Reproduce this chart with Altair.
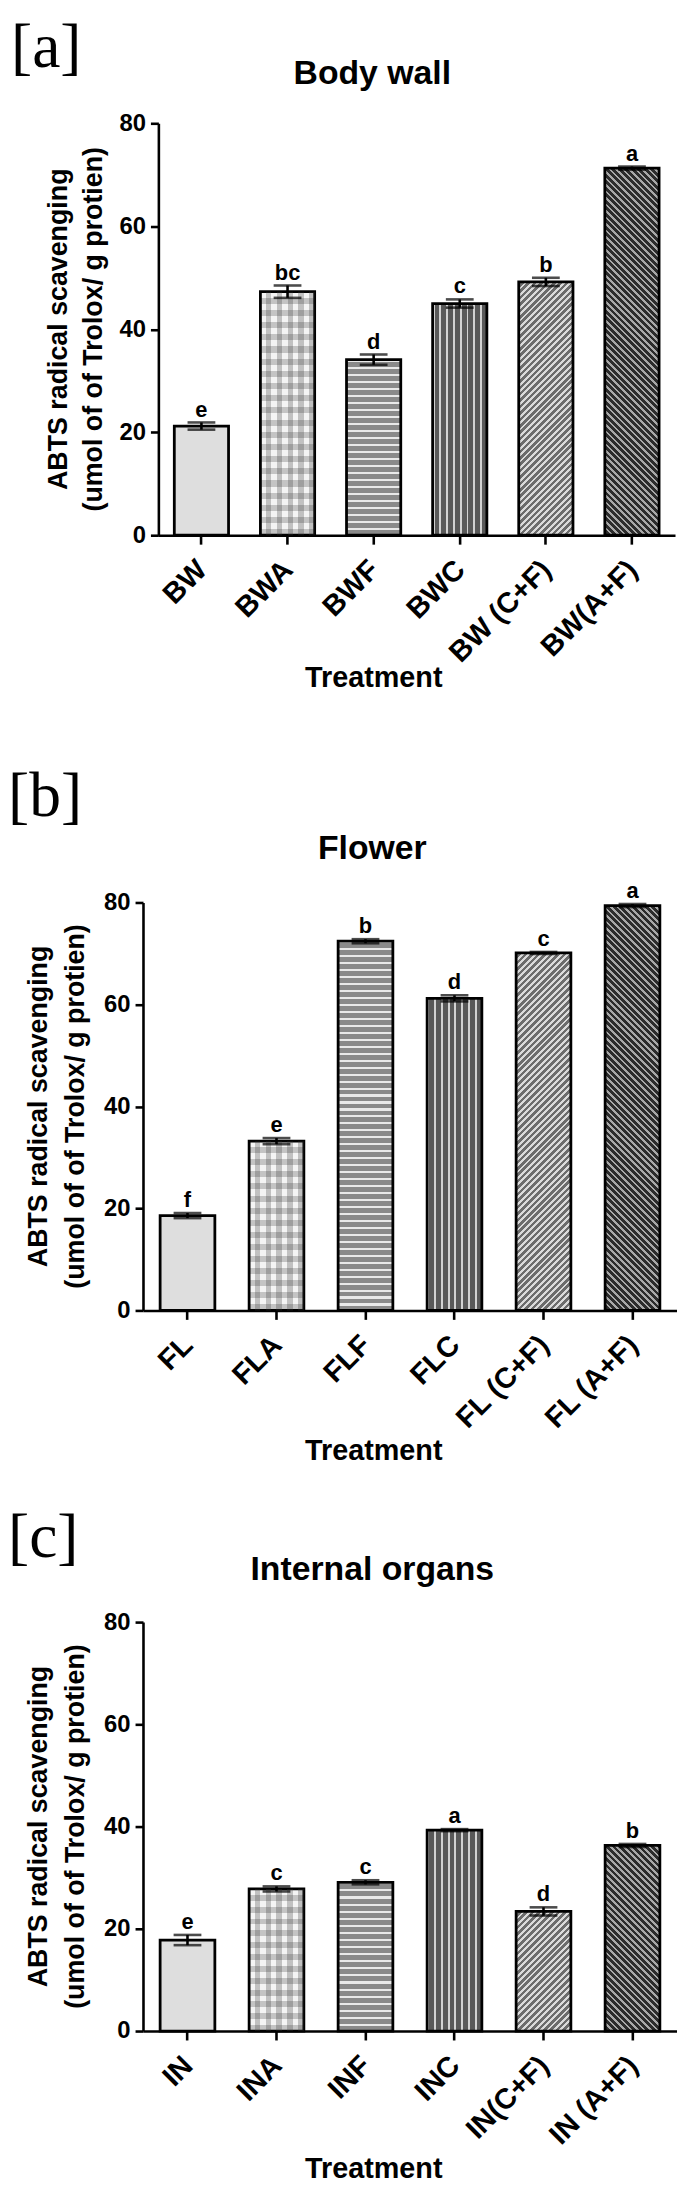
import json
import altair as alt
import pandas as pd

FONT = "Liberation Sans"
SERIF = "Liberation Serif"

# ---------------- data ----------------
panel_tags = ["[a]", "[b]", "[c]"]
panel_titles = ["Body wall", "Flower", "Internal organs"]
y_title_lines = ["ABTS radical scavenging", "(umol of of Trolox/ g protien)"]
x_title = "Treatment"
y_ticks = [0, 20, 40, 60, 80]

a_cats = ["BW", "BWA", "BWF", "BWC", "BW (C+F)", "BW(A+F)"]
a_vals = [21.2, 47.3, 34.1, 45.0, 49.2, 71.3]
a_errs = [0.7, 1.2, 1.0, 0.8, 0.8, 0.3]
a_lets = ["e", "bc", "d", "c", "b", "a"]

b_cats = ["FL", "FLA", "FLF", "FLC", "FL (C+F)", "FL (A+F)"]
b_vals = [18.6, 33.2, 72.4, 61.2, 70.1, 79.4]
b_errs = [0.5, 0.6, 0.4, 0.6, 0.2, 0.3]
b_lets = ["f", "e", "b", "d", "c", "a"]

c_cats = ["IN", "INA", "INF", "INC", "IN(C+F)", "IN (A+F)"]
c_vals = [17.8, 27.8, 29.1, 39.3, 23.4, 36.3]
c_errs = [1.0, 0.5, 0.4, 0.2, 0.8, 0.3]
c_lets = ["e", "c", "c", "a", "d", "b"]

Y_MAX = 80


# ---------------- pattern fills (gradients) ----------------
def stripe_grad(n, light, dark, frac, x1, y1, x2, y2):
    stops = []
    for i in range(n):
        s = i / n
        m = (i + frac) / n
        e = (i + 1) / n
        stops += [
            {"offset": round(s, 5), "color": light},
            {"offset": round(m, 5), "color": light},
            {"offset": round(m, 5), "color": dark},
            {"offset": round(e, 5), "color": dark},
        ]
    return {"gradient": "linear", "x1": x1, "y1": y1, "x2": x2, "y2": y2, "stops": stops}


def fill_def(cats, vals, bar_w, H):
    conds = []
    for i, (c, v) in enumerate(zip(cats, vals)):
        h = v * H / Y_MAX
        if i == 1:  # checker base: horizontal bands
            g = stripe_grad(max(1, round(h / 12.0)), "#f4f4f4", "#c4c4c4", 0.5, 0, 0, 0, 1)
        elif i == 2:  # horizontal stripes
            g = stripe_grad(max(1, round(h / 7.0)), "#e9e9e9", "#8a8a8a", 0.3, 0, 0, 0, 1)
        elif i == 3:  # vertical stripes
            g = stripe_grad(max(1, round(bar_w / 7.0)), "#d2d2d2", "#595959", 0.28, 0, 0, 1, 0)
        elif i == 4:  # "/" hatching
            s = (bar_w + h) / (bar_w ** 2 + h ** 2)
            n = max(1, round((bar_w + h) / (4.6 * 2 ** 0.5)))
            g = stripe_grad(n, "#dadada", "#6c6c6c", 0.45, 0, 0, s * bar_w, s * h)
        elif i == 5:  # "\" hatching
            s = (bar_w + h) / (bar_w ** 2 + h ** 2)
            n = max(1, round((bar_w + h) / (4.6 * 2 ** 0.5)))
            g = stripe_grad(n, "#a8a8a8", "#2c2c2c", 0.4, 0, 1, s * bar_w, 1 - s * h)
        else:
            continue
        conds.append({"test": "datum.t === " + json.dumps(c), "value": g})
    return {"condition": conds, "value": "#dedede"}


def text_layer(txt, x, y, size, font=FONT, weight="bold", angle=0, align="center",
               baseline="alphabetic"):
    df = pd.DataFrame({"s": [txt]})
    return alt.Chart(df).mark_text(
        font=font, fontSize=size, fontWeight=weight, angle=angle, align=align,
        baseline=baseline, color="black"
    ).encode(x=alt.value(x), y=alt.value(y), text="s:N")


def panel(idx, cats, vals, errs, lets, H, W, x0, pad_in, tag_x, tag_y, title_y,
          yt_x1, yt_x2, xt_y):
    df = pd.DataFrame({"t": cats, "v": vals, "e": errs, "l": lets})
    step = (W - x0) / len(cats)
    bar_w = step * (1 - pad_in)

    xaxis = alt.Axis(
        title=x_title, labels=False, tickSize=9, titleFontSize=29,
        titleX=232, titleY=xt_y, titleAlign="center", titleBaseline="alphabetic",
    )
    xenc = alt.X("t:N", sort=cats,
                 scale=alt.Scale(range=[x0, W], paddingInner=pad_in, paddingOuter=pad_in / 2),
                 axis=xaxis)
    yscale = alt.Scale(domain=[0, Y_MAX], nice=False)
    yaxis = alt.Axis(values=y_ticks, title=None, offset=-x0, tickSize=8, labelPadding=5,
                     labelFontSize=24, labelFlush=False, labelOverlap=False)

    base = alt.Chart(df).transform_calculate(lo="datum.v - datum.e", hi="datum.v + datum.e")

    bars = base.mark_bar(stroke="black", strokeWidth=2.8).encode(
        x=xenc,
        y=alt.Y("v:Q", scale=yscale, axis=yaxis),
        fill=fill_def(cats, vals, bar_w, H),
    )
    # vertical bands laid over the second bar, giving the checkered texture
    checker = base.transform_filter("datum.t === " + json.dumps(cats[1])).mark_bar(
        strokeWidth=0,
        fill=stripe_grad(max(1, round(bar_w / 12.0)), "rgba(0,0,0,0)", "rgba(60,60,60,0.28)",
                         0.5, 0, 0, 1, 0),
    ).encode(x=xenc, y=alt.Y("v:Q", scale=yscale, axis=yaxis))
    rule = base.mark_rule(color="black", strokeWidth=2.6).encode(
        x=xenc, y=alt.Y("lo:Q", scale=yscale, axis=yaxis), y2="hi:Q"
    )
    cap_hi = base.mark_tick(color="black", thickness=2.6, size=28, orient="horizontal").encode(
        x=xenc, y=alt.Y("hi:Q", scale=yscale, axis=yaxis)
    )
    cap_lo = base.mark_tick(color="black", thickness=2.6, size=28, orient="horizontal").encode(
        x=xenc, y=alt.Y("lo:Q", scale=yscale, axis=yaxis)
    )
    letters = base.mark_text(font=FONT, fontSize=22, fontWeight="bold", baseline="bottom",
                             dy=-1, color="black").encode(
        x=xenc, y=alt.Y("hi:Q", scale=yscale, axis=yaxis), text="l:N"
    )
    # category labels under the axis, slanted at 45 degrees
    ticklabels = base.mark_text(font=FONT, fontSize=29, fontWeight="bold", angle=315,
                                align="right", baseline="middle", color="black", dx=1).encode(
        x=xenc, y=alt.value(H + 31), text="t:N"
    )

    tag = text_layer(panel_tags[idx], tag_x, tag_y, 64, font=SERIF, weight="normal", align="left")
    title = text_layer(panel_titles[idx], 231, title_y, 34)
    yt1 = text_layer(y_title_lines[0], yt_x1, H / 2, 27, angle=270, baseline="middle")
    yt2 = text_layer(y_title_lines[1], yt_x2, H / 2, 27, angle=270, baseline="middle")

    return alt.layer(bars, checker, rule, cap_hi, cap_lo, letters, ticklabels,
                     tag, title, yt1, yt2).properties(width=538, height=H)


def spacer(h):
    return alt.Chart(pd.DataFrame({"z": [0]})).mark_point(opacity=0, size=1).encode(
        x=alt.value(0), y=alt.value(0)
    ).properties(width=1, height=h)


pa = panel(0, a_cats, a_vals, a_errs, a_lets, H=415, W=536, x0=15.5, pad_in=0.37,
           tag_x=-133, tag_y=-56.5, title_y=-40, yt_x1=-85, yt_x2=-49, xt_y=152)
pb = panel(1, b_cats, b_vals, b_errs, b_lets, H=411, W=538, x0=0, pad_in=0.385,
           tag_x=-136, tag_y=-87, title_y=-44, yt_x1=-105, yt_x2=-67, xt_y=150)
pc = panel(2, c_cats, c_vals, c_errs, c_lets, H=412, W=538, x0=0, pad_in=0.385,
           tag_x=-136, tag_y=-66, title_y=-42, yt_x1=-105, yt_x2=-67, xt_y=148)

chart = alt.vconcat(pa, spacer(369.5), pb, spacer(314), pc, spacing=0, bounds="flush").properties(
    padding={"left": 0, "top": 0, "right": 0, "bottom": 0}
).configure_view(stroke=None).configure_axis(
    domainColor="black", domainWidth=2.6, tickColor="black", tickWidth=2.6,
    labelColor="black", labelFont=FONT, labelFontWeight="bold",
    titleColor="black", titleFont=FONT, titleFontWeight="bold", grid=False,
)

chart.save("out.html", embed_options={"renderer": "svg", "actions": False})
